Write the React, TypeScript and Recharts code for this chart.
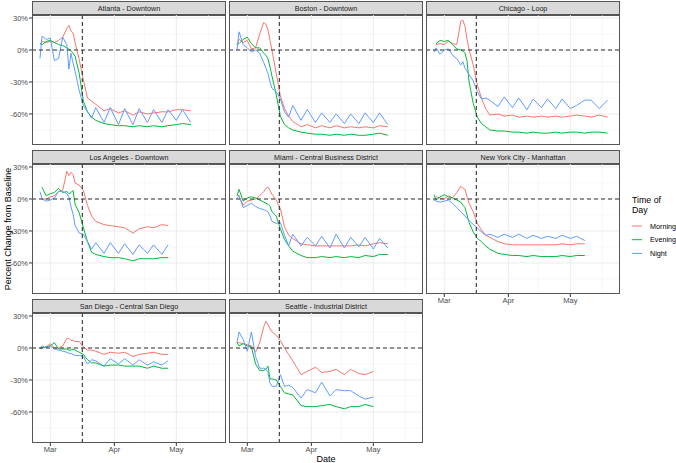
import React from "react";
import { LineChart, Line, XAxis, YAxis, ReferenceLine } from "recharts";

// shared day grid (days since Mar 1)
const DAYS = [-5, -4, -2, 0, 2, 4, 6, 8, 9, 10, 11, 12, 14, 16, 18, 20, 22, 26, 29, 33, 36, 40, 43, 47, 50, 54, 57, 61, 64, 68, 71, 75, 79];
const MONTH_TICKS = [0, 31, 61];
const MONTH_LABELS = ["Mar", "Apr", "May"];
const Y_TICKS = [-60, -30, 0, 30];
const Y_MINOR = [-75, -45, -15, 15];
const X_MINOR = [15.5, 45.5, 76.5];
const CUTOFF_DAY = 15.5;
const SERIES = ["Morning", "Evening", "Night"];
const COLORS = ["#F8766D", "#00BA38", "#619CFF"];

const atlantaMorning = [5, 8, 7, 8, 7, 9, 12, 20, 23, 18, 16, 7, -9, -28, -45, -48, -51, -57, -55, -59, -57, -61, -58, -60, -59, -58, -58, -56, -56, -57];
const atlantaEvening = [6, 5, 8, 9, 7, 5, 4, 2, 1, -1, -3, -6, -22, -48, -58, -63, -66, -69, -70, -71, -71, -72, -71, -72, -71, -72, -71, -70, -69, -70];
const atlantaNight = [-8, 13, 10, 11, -10, -8, 12, 5, -18, -3, -12, -20, -38, -52, -58, -64, -54, -68, -54, -70, -55, -70, -55, -68, -56, -68, -56, -66, -56, -68];

const bostonMorning = [5, 10, 7, 9, 1, 2, 15, 26, 24, 19, 9, -1, -22, -43, -55, -62, -67, -72, -70, -73, -71, -73, -71, -73, -72, -73, -72, -73, -71, -72];
const bostonEvening = [5, 6, 10, 12, 6, 2, 2, -3, -5, -8, -16, -25, -42, -62, -70, -73, -75, -77, -78, -79, -79, -80, -79, -80, -79, -80, -80, -79, -78, -80];
const bostonNight = [0, 17, 5, 2, -2, 0, -3, -12, -17, -22, -30, -36, -39, -46, -58, -63, -52, -66, -56, -68, -59, -68, -60, -69, -60, -69, -59, -68, -59, -70];

const chicagoMorning = [null, 5, 6, 5, 8, 6, 5, 27, 28, 22, 10, 0, -14, -33, -45, -55, -61, -60, -62, -61, -63, -62, -63, -62, -63, -62, -63, -62, -61, -62, -63, -61, -63];
const chicagoEvening = [null, 6, 9, 8, 9, 5, 1, 0, -1, -3, -10, -30, -50, -63, -69, -72, -75, -76, -76, -77, -77, -78, -77, -78, -78, -77, -78, -77, -77, -78, -77, -77, -78];
const chicagoNight = [-2, 2, -4, 0, 1, -5, -8, -14, -11, -17, -20, -23, -29, -39, -46, -45, -47, -53, -44, -54, -45, -56, -46, -54, -46, -55, -46, -55, -52, -47, -47, -55, -47];

const laMorning = [null, 0, 0, 2, 3, 7, 8, 26, 22, 25, 23, 15, 13, 8, -6, -16, -21, -24, -25, -26, -27, -32, -28, -26, -27, -24, -25];
const laEvening = [null, 11, 3, 5, 6, 10, 6, 7, 5, 6, 8, -5, -13, -27, -40, -50, -52, -54, -55, -55, -56, -58, -56, -56, -56, -55, -55];
const laNight = [7, 0, -2, -1, 1, 7, 7, 5, 2, -7, -14, -25, -32, -33, -40, -47, -41, -51, -41, -51, -42, -52, -43, -51, -43, -52, -43];

const miamiMorning = [4, 3, -6, -2, -1, 0, 3, 7, 10, 11, 8, 4, -1, -9, -26, -34, -37, -42, -43, -44, -44, -44, -44, -44, -44, -43, -44, -42, -41, -42];
const miamiEvening = [3, 9, -2, 1, 2, 1, -1, -3, -4, -5, -7, -12, -16, -28, -38, -44, -49, -53, -55, -55, -54, -55, -54, -55, -54, -55, -53, -54, -52, -52];
const miamiNight = [1, 3, -8, -6, -4, -7, -9, -10, -11, -12, -16, -21, -23, -22, -34, -44, -33, -44, -36, -44, -35, -46, -33, -46, -36, -45, -36, -47, -37, -46];

const nycMorning = [null, 2, 1, 0, 3, 1, 6, 12, 10, 9, 2, -4, -12, -23, -29, -34, -36, -40, -42, -43, -43, -43, -43, -43, -43, -43, -42, -43, -42, -42];
const nycEvening = [4, -1, 2, 4, 2, 1, -1, -3, -6, -8, -15, -22, -31, -37, -40, -44, -47, -51, -52, -53, -53, -54, -53, -54, -54, -54, -53, -54, -53, -53];
const nycNight = [-1, -2, -3, -2, -1, -4, -8, -12, -14, -16, -18, -20, -24, -27, -31, -34, -33, -36, -33, -36, -33, -37, -34, -37, -35, -37, -34, -37, -35, -39];

const sdMorning = [0, 0, 1, 4, 0, 0, 2, 9, 9, 7, 7, 6, 6, 1, -2, -2, -3, -6, -4, -5, -4, -8, -6, -5, -4, -6, -6];
const sdEvening = [0, 0, 1, 2, 5, -1, -1, -1, -2, -2, -1, -2, -4, -6, -11, -14, -14, -17, -16, -16, -17, -17, -17, -19, -17, -19, -19];
const sdNight = [0, 2, 0, 2, -1, -2, -3, -4, -5, -5, -6, -7, -7, -8, -15, -11, -12, -17, -10, -15, -10, -16, -11, -16, -13, -16, -12];

const seattleMorning = [5, 5, 4, 3, 2, -4, 5, 20, 25, 22, 18, 15, 12, 7, 0, -6, -12, -25, -22, -18, -23, -22, -20, -25, -20, -24, -25, -22];
const seattleEvening = [5, 2, 4, 2, 1, -15, -21, -21, -20, -17, -29, -29, -30, -36, -42, -43, -44, -54, -55, -55, -54, -53, -55, -57, -55, -55, -53, -55];
const seattleNight = [5, 15, 8, -3, 15, -8, -19, -19, -20, -23, -33, -36, -36, -25, -36, -35, -37, -47, -39, -42, -32, -45, -39, -40, -40, -45, -48, -46];

const PANELS = [
  { title: "Atlanta - Downtown", row: 0, col: 0, values: [atlantaMorning, atlantaEvening, atlantaNight] },
  { title: "Boston - Downtown", row: 0, col: 1, values: [bostonMorning, bostonEvening, bostonNight] },
  { title: "Chicago - Loop", row: 0, col: 2, values: [chicagoMorning, chicagoEvening, chicagoNight] },
  { title: "Los Angeles - Downtown", row: 1, col: 0, values: [laMorning, laEvening, laNight] },
  { title: "Miami - Central Business District", row: 1, col: 1, values: [miamiMorning, miamiEvening, miamiNight] },
  { title: "New York City - Manhattan", row: 1, col: 2, values: [nycMorning, nycEvening, nycNight], xAxis: true },
  { title: "San Diego - Central San Diego", row: 2, col: 0, values: [sdMorning, sdEvening, sdNight], xAxis: true },
  { title: "Seattle - Industrial District", row: 2, col: 1, values: [seattleMorning, seattleEvening, seattleNight], xAxis: true },
];

const FONT = '"Liberation Sans", Arial, sans-serif';
const COL_LEFT = [32, 229, 426];
const ROW_TOP = [15, 164, 313];
const W = 194;
const H = 130;
const X_DOMAIN = [-8.86, 85.04];
const Y_DOMAIN = [-89.1, 32.8];

function Panel({ p }: { p: (typeof PANELS)[number] }) {
  const left = COL_LEFT[p.col];
  const top = ROW_TOP[p.row];
  const yW = p.col === 0 ? 32 : 0;
  const xH = p.xAxis ? 16 : 0;
  const data = DAYS.map((day, i) => {
    const row: Record<string, number | null> = { day };
    SERIES.forEach((s, k) => {
      const v = p.values[k][i];
      row[s] = v === undefined ? null : v;
    });
    return row;
  });

  return (
    <>
      <div
        style={{
          position: "absolute",
          left,
          top: top - 14,
          width: W,
          height: 15,
          boxSizing: "border-box",
          background: "#D9D9D9",
          border: "1px solid #555",
          fontSize: 7.2,
          color: "#1A1A1A",
          textAlign: "center",
          lineHeight: "13px",
          whiteSpace: "nowrap",
        }}
      >
        {p.title}
      </div>
      <div style={{ position: "absolute", left: left - yW, top }}>
        <LineChart width={W + yW} height={H + xH} data={data} margin={{ top: 0, right: 0, bottom: 0, left: 0 }}>
          <XAxis
            type="number"
            dataKey="day"
            domain={X_DOMAIN}
            allowDataOverflow
            ticks={MONTH_TICKS}
            interval={0}
            hide={!p.xAxis}
            height={xH}
            axisLine={false}
            tickSize={3}
            tickMargin={1}
            tickLine={{ stroke: "#333" }}
            tick={{ fontSize: 7.5, fill: "#4D4D4D", fontFamily: FONT }}
            tickFormatter={(v: number) => MONTH_LABELS[MONTH_TICKS.indexOf(v)] ?? ""}
          />
          <YAxis
            type="number"
            domain={Y_DOMAIN}
            allowDataOverflow
            ticks={Y_TICKS}
            interval={0}
            hide={p.col !== 0}
            width={yW}
            axisLine={false}
            tickSize={3}
            tickMargin={1}
            tickLine={{ stroke: "#333" }}
            tick={{ fontSize: 7.5, fill: "#4D4D4D", fontFamily: FONT }}
            tickFormatter={(v: number) => `${v}%`}
          />
          {Y_MINOR.map((v) => (
            <ReferenceLine key={"ym" + v} y={v} stroke="#F2F2F2" strokeWidth={0.6} />
          ))}
          {X_MINOR.map((v) => (
            <ReferenceLine key={"xm" + v} x={v} stroke="#F2F2F2" strokeWidth={0.6} />
          ))}
          {Y_TICKS.map((v) => (
            <ReferenceLine key={"y" + v} y={v} stroke="#EBEBEB" strokeWidth={1} />
          ))}
          {MONTH_TICKS.map((v) => (
            <ReferenceLine key={"x" + v} x={v} stroke="#EBEBEB" strokeWidth={1} />
          ))}
          {SERIES.map((s, k) => (
            <Line
              key={s}
              type="linear"
              dataKey={s}
              stroke={COLORS[k]}
              strokeWidth={1}
              dot={false}
              activeDot={false}
              isAnimationActive={false}
            />
          ))}
          <ReferenceLine y={0} stroke="#333" strokeWidth={1.1} strokeDasharray="4 3" />
          <ReferenceLine x={CUTOFF_DAY} stroke="#333" strokeWidth={1.1} strokeDasharray="4 3" />
        </LineChart>
      </div>
      <div
        style={{
          position: "absolute",
          left,
          top: top - 1,
          width: W,
          height: H + 1,
          boxSizing: "border-box",
          border: "1px solid #555",
          pointerEvents: "none",
        }}
      />
    </>
  );
}

export default function App() {
  return (
    <div
      style={{
        position: "absolute",
        left: 0,
        top: 0,
        width: 676,
        height: 463,
        overflow: "hidden",
        background: "#fff",
        fontFamily: FONT,
      }}
    >
      {PANELS.map((p) => (
        <Panel key={p.title} p={p} />
      ))}
      <div
        style={{
          position: "absolute",
          left: 8,
          top: 228.5,
          transform: "translate(-50%, -50%) rotate(-90deg)",
          fontSize: 9,
          lineHeight: "10px",
          color: "#000",
          whiteSpace: "nowrap",
        }}
      >
        Percent Change from Baseline
      </div>
      <div
        style={{
          position: "absolute",
          left: 326,
          top: 459,
          transform: "translate(-50%, -50%)",
          fontSize: 9,
          color: "#000",
          whiteSpace: "nowrap",
        }}
      >
        Date
      </div>
      <div style={{ position: "absolute", left: 632, top: 196, fontSize: 8.8, lineHeight: "9.5px", color: "#000" }}>
        Time of
        <br />
        Day
      </div>
      <svg style={{ position: "absolute", left: 628, top: 215 }} width={48} height={48}>
        {SERIES.map((s, k) => (
          <g key={s}>
            <line x1={4} x2={14} y1={11 + k * 13.7} y2={11 + k * 13.7} stroke={COLORS[k]} strokeWidth={1} />
            <text x={22} y={11 + k * 13.7} dy="0.35em" fontSize={7.2} fill="#000" fontFamily={FONT}>
              {s}
            </text>
          </g>
        ))}
      </svg>
    </div>
  );
}
